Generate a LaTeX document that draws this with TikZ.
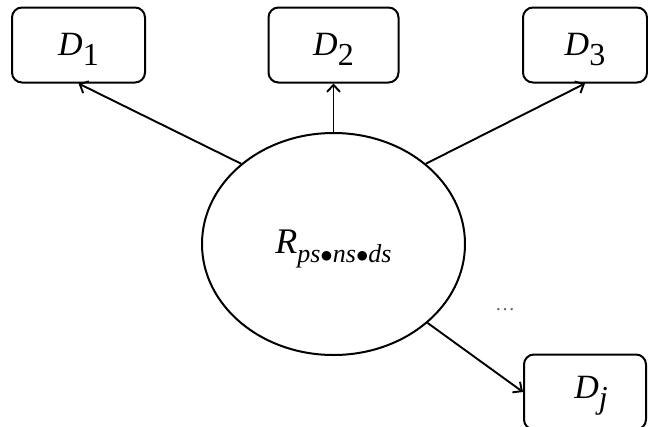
\documentclass[tikz,border=0pt]{standalone}
\usepackage{fontspec}
\setmainfont{Liberation Serif}
\usetikzlibrary{arrows.meta,shapes.geometric}
\newcommand{\mysubD}[1]{{\fontsize{34}{36}\selectfont\itshape D}\raisebox{-10pt}{\fontsize{32}{34}\selectfont #1}}
\tikzset{
  dbox/.style={draw, line width=2pt, rounded corners=10pt, minimum width=#1, minimum height=75pt, inner sep=0pt, text height=22pt, text depth=2pt},
  dbox/.default=133pt,
  conn/.style={line width=1.9pt, -{Straight Barb[length=7pt,width=13pt,line width=1.9pt]}},
}
\begin{document}
\begin{tikzpicture}[x=1pt,y=-1pt]
\useasboundingbox (0,0) rectangle (648,426);
\node[dbox=133pt] (d1) at (78.5,45) {\mysubD{1}};
\node[dbox=130pt] (d2) at (333.5,45) {\mysubD{2}};
\node[dbox=124pt] (d3) at (585,45) {\mysubD{3}};
\node[dbox=122pt, text depth=10pt] (dj) at (585,392) {\hspace*{12pt}\mysubD{\itshape j}};
\node[draw, line width=2pt, ellipse, minimum width=263pt, minimum height=222pt, inner sep=0pt, text height=24pt, text depth=6pt] (r) at (333.5,244)
  {{\fontsize{36}{38}\selectfont\itshape R}\raisebox{-9pt}{\fontsize{26}{28}\selectfont\itshape ps$\bullet$ns$\bullet$ds}};
\node[text=black!60, font=\fontsize{20}{20}\selectfont] (dots) at (505,310) {\dots};
\draw[conn] (r.139) -- (d1.south);
\draw[conn] (r.north) -- (d2.south);
\draw[conn] (r.41) -- (d3.south);
\draw[conn] (r.-40) -- (dj.west);
\end{tikzpicture}
\end{document}
